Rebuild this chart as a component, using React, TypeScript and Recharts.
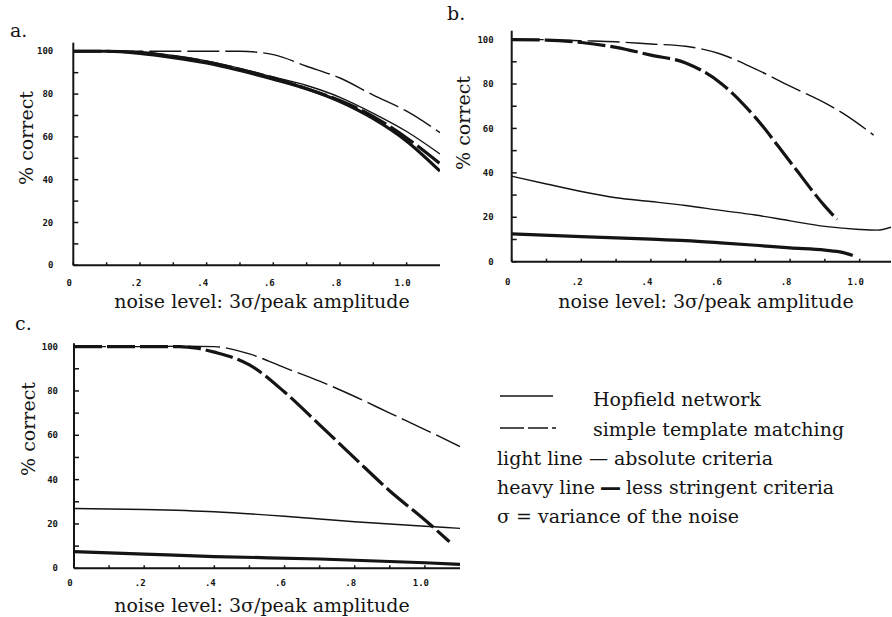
import { LineChart, Line, XAxis, YAxis } from 'recharts';

const INK = '#141414';
const SERIF = '"DejaVu Serif", serif';
const MONO = '"DejaVu Sans Mono", monospace';

// axis ticks (minor every .1 / 10, labels only on the major ones)
const X_TICKS = [0, 0.1, 0.2, 0.3, 0.4, 0.5, 0.6, 0.7, 0.8, 0.9, 1.0];
const X_MAJOR = [0, 0.2, 0.4, 0.6, 0.8, 1.0];
const X_LABELS = ['0', '.2', '.4', '.6', '.8', '1.0'];
const Y_TICKS = [0, 10, 20, 30, 40, 50, 60, 70, 80, 90, 100];
const Y_MAJOR = [0, 20, 40, 60, 80, 100];
const Y_LABELS = ['0', '20', '40', '60', '80', '100'];

const X_TITLE = 'noise level: 3σ/peak amplitude';
const Y_TITLE = '% correct';

// panel a
const A_X = [0, 0.1, 0.2, 0.3, 0.4, 0.5, 0.6, 0.7, 0.8, 0.9, 1.0, 1.1];
const A_HOP_LIGHT = [100, 100, 99.5, 98, 95.5, 92, 88, 84, 78.5, 71, 62.5, 52];
const A_HOP_HEAVY = [100, 100, 99, 97, 94.5, 91, 87, 82.5, 76.5, 68.5, 58, 44];
const A_TPL_LIGHT = [100, 100, 100, 100, 100, 100, 98.4, 93, 87.5, 79.5, 72, 62];
const A_TPL_HEAVY = [100, 100, 99.5, 97.5, 95, 91.5, 87.5, 82.5, 77, 69.5, 59.5, 47.5];

// panel b
const B_HOP_LIGHT_X = [0, 0.1, 0.2, 0.3, 0.4, 0.5, 0.6, 0.7, 0.8, 0.9, 1.0, 1.05, 1.09];
const B_HOP_LIGHT = [38.5, 35, 31.6, 28.8, 27.1, 25.3, 23.1, 21, 18.4, 15.9, 14.5, 14.2, 15.5];
const B_HOP_HEAVY_X = [0, 0.2, 0.4, 0.5, 0.6, 0.7, 0.8, 0.9, 0.95, 0.98];
const B_HOP_HEAVY = [12.5, 11.3, 10.2, 9.5, 8.5, 7.4, 6.2, 5.2, 4.2, 2.8];
const B_TPL_LIGHT_X = [0, 0.1, 0.2, 0.3, 0.4, 0.5, 0.6, 0.7, 0.8, 0.9, 0.96, 1.04];
const B_TPL_LIGHT = [100, 100, 99.5, 99, 98, 97, 93.5, 86.8, 79, 71.5, 66, 57];
const B_TPL_HEAVY_X = [0, 0.1, 0.2, 0.3, 0.4, 0.5, 0.6, 0.7, 0.8, 0.9, 0.935];
const B_TPL_HEAVY = [100, 99.8, 98.7, 96.5, 93, 89.5, 80.5, 65, 45, 25, 19];

// panel c
const C_HOP_LIGHT_X = [0, 0.2, 0.4, 0.6, 0.8, 1.0, 1.1];
const C_HOP_LIGHT = [27, 26.5, 25.5, 23.5, 21, 19, 18];
const C_HOP_HEAVY_X = [0, 0.2, 0.4, 0.7, 1.0, 1.1];
const C_HOP_HEAVY = [7.5, 6.4, 5.3, 4.2, 2.5, 1.8];
const C_TPL_LIGHT_X = [0, 0.1, 0.2, 0.3, 0.4, 0.5, 0.6, 0.7, 0.8, 0.9, 1.0, 1.1];
const C_TPL_LIGHT = [100, 100, 100, 100.2, 100, 96.7, 90.5, 84.4, 77.5, 70, 62.6, 54.9];
const C_TPL_HEAVY_X = [0, 0.1, 0.2, 0.3, 0.35, 0.4, 0.5, 0.6, 0.7, 0.8, 0.9, 1.0, 1.07];
const C_TPL_HEAVY = [100, 100, 100, 100, 99.3, 97.5, 91.8, 79.5, 64.7, 49.7, 34.9, 21.8, 12];

type Series = { xs: number[]; ys: number[]; heavy: boolean; dashed: boolean };

const pts = (s: Series) => s.xs.map((x, i) => ({ x, y: s.ys[i] }));

const fmtX = (v: number) => {
  const i = X_MAJOR.findIndex((m) => Math.abs(m - v) < 1e-6);
  return i >= 0 ? X_LABELS[i] : '';
};
const fmtY = (v: number) => {
  const i = Y_MAJOR.indexOf(v);
  return i >= 0 ? Y_LABELS[i] : '';
};

const tickStyle = { fill: INK, fontFamily: MONO, fontWeight: 700, fontSize: 9 };

function Panel(p: any) {
  return (
    <div style={{ position: 'absolute', left: p.left, top: p.top }}>
      <LineChart
        width={p.width}
        height={p.height}
        margin={{ top: p.plotTop, right: p.right, bottom: 0, left: 0 }}
      >
        <XAxis
          type="number"
          dataKey="x"
          domain={[0, p.xMax]}
          allowDataOverflow
          ticks={X_TICKS}
          interval={0}
          tickFormatter={fmtX}
          tick={{ ...tickStyle, dx: -4 }}
          tickSize={-3}
          tickMargin={p.xTickMargin}
          height={p.xAxisHeight}
          axisLine={{ stroke: INK, strokeWidth: 2 }}
          tickLine={{ stroke: INK, strokeWidth: 1.5 }}
        />
        <YAxis
          type="number"
          domain={[0, p.yMax]}
          allowDataOverflow
          ticks={Y_TICKS}
          interval={0}
          tickFormatter={fmtY}
          tick={tickStyle}
          tickSize={-5}
          tickMargin={p.yTickMargin}
          width={p.yAxisWidth}
          axisLine={{ stroke: INK, strokeWidth: 2 }}
          tickLine={{ stroke: INK, strokeWidth: 1.5 }}
        />
        {p.series.map((s: Series, i: number) => (
          <Line
            key={i}
            data={pts(s)}
            dataKey="y"
            type="monotone"
            stroke={INK}
            strokeWidth={s.heavy ? 3.2 : 1.4}
            strokeDasharray={s.dashed ? (s.heavy ? '28 5' : '32 6') : undefined}
            dot={false}
            activeDot={false}
            isAnimationActive={false}
          />
        ))}
      </LineChart>
    </div>
  );
}

const seriesA: Series[] = [
  { xs: A_X, ys: A_TPL_LIGHT, heavy: false, dashed: true },
  { xs: A_X, ys: A_HOP_LIGHT, heavy: false, dashed: false },
  { xs: A_X, ys: A_TPL_HEAVY, heavy: true, dashed: true },
  { xs: A_X, ys: A_HOP_HEAVY, heavy: true, dashed: false },
];
const seriesB: Series[] = [
  { xs: B_TPL_LIGHT_X, ys: B_TPL_LIGHT, heavy: false, dashed: true },
  { xs: B_TPL_HEAVY_X, ys: B_TPL_HEAVY, heavy: true, dashed: true },
  { xs: B_HOP_LIGHT_X, ys: B_HOP_LIGHT, heavy: false, dashed: false },
  { xs: B_HOP_HEAVY_X, ys: B_HOP_HEAVY, heavy: true, dashed: false },
];
const seriesC: Series[] = [
  { xs: C_TPL_LIGHT_X, ys: C_TPL_LIGHT, heavy: false, dashed: true },
  { xs: C_TPL_HEAVY_X, ys: C_TPL_HEAVY, heavy: true, dashed: true },
  { xs: C_HOP_LIGHT_X, ys: C_HOP_LIGHT, heavy: false, dashed: false },
  { xs: C_HOP_HEAVY_X, ys: C_HOP_HEAVY, heavy: true, dashed: false },
];

// rotated y title, baseline at x
const YTitle = ({ x, y }: { x: number; y: number }) => (
  <text x={x} y={y} textAnchor="middle" transform={`rotate(-90, ${x}, ${y})`}>
    {Y_TITLE}
  </text>
);

export default function App() {
  return (
    <div
      style={{
        position: 'absolute',
        left: 0,
        top: 0,
        width: 892,
        height: 617,
        overflow: 'hidden',
        background: '#fff',
      }}
    >
      <Panel
        left={0} top={0} width={450} height={320} plotTop={42.7} right={10}
        xAxisHeight={54.7} yAxisWidth={73.3} xMax={1.1} yMax={104}
        xTickMargin={17} yTickMargin={25}
        series={seriesA}
      />
      <Panel
        left={440} top={0} width={452} height={320} plotTop={30.7} right={1}
        xAxisHeight={58.3} yAxisWidth={71.7} xMax={1.09} yMax={104}
        xTickMargin={20} yTickMargin={23}
        series={seriesB}
      />
      <Panel
        left={0} top={310} width={470} height={307} plotTop={33.3} right={10}
        xAxisHeight={48.7} yAxisWidth={74} xMax={1.1} yMax={101.5}
        xTickMargin={14} yTickMargin={21}
        series={seriesC}
      />
      <svg
        width={892}
        height={617}
        style={{ position: 'absolute', left: 0, top: 0, pointerEvents: 'none' }}
        fontFamily={SERIF}
        fontSize={19}
        fill={INK}
      >
        <text x={10} y={37}>a.</text>
        <text x={447} y={20}>b.</text>
        <text x={15} y={330}>c.</text>

        <text x={262} y={308} textAnchor="middle">{X_TITLE}</text>
        <text x={706} y={308} textAnchor="middle">{X_TITLE}</text>
        <text x={262} y={612} textAnchor="middle">{X_TITLE}</text>
        <YTitle x={33} y={138} />
        <YTitle x={470} y={123} />
        <YTitle x={35} y={429} />

        <line x1={500} y1={396} x2={553} y2={396} stroke={INK} strokeWidth={1.5} />
        <text x={593} y={406}>Hopfield network</text>
        <line x1={500} y1={428} x2={556} y2={428} stroke={INK} strokeWidth={1.5} strokeDasharray="24 4 20 4" />
        <text x={593} y={436}>simple template matching</text>
        <text x={497} y={465}>light line — absolute criteria</text>
        <text x={497} y={494}>
          heavy line <tspan stroke={INK} strokeWidth={1.6}>—</tspan> less stringent criteria
        </text>
        <text x={497} y={523}>σ = variance of the noise</text>
      </svg>
    </div>
  );
}
